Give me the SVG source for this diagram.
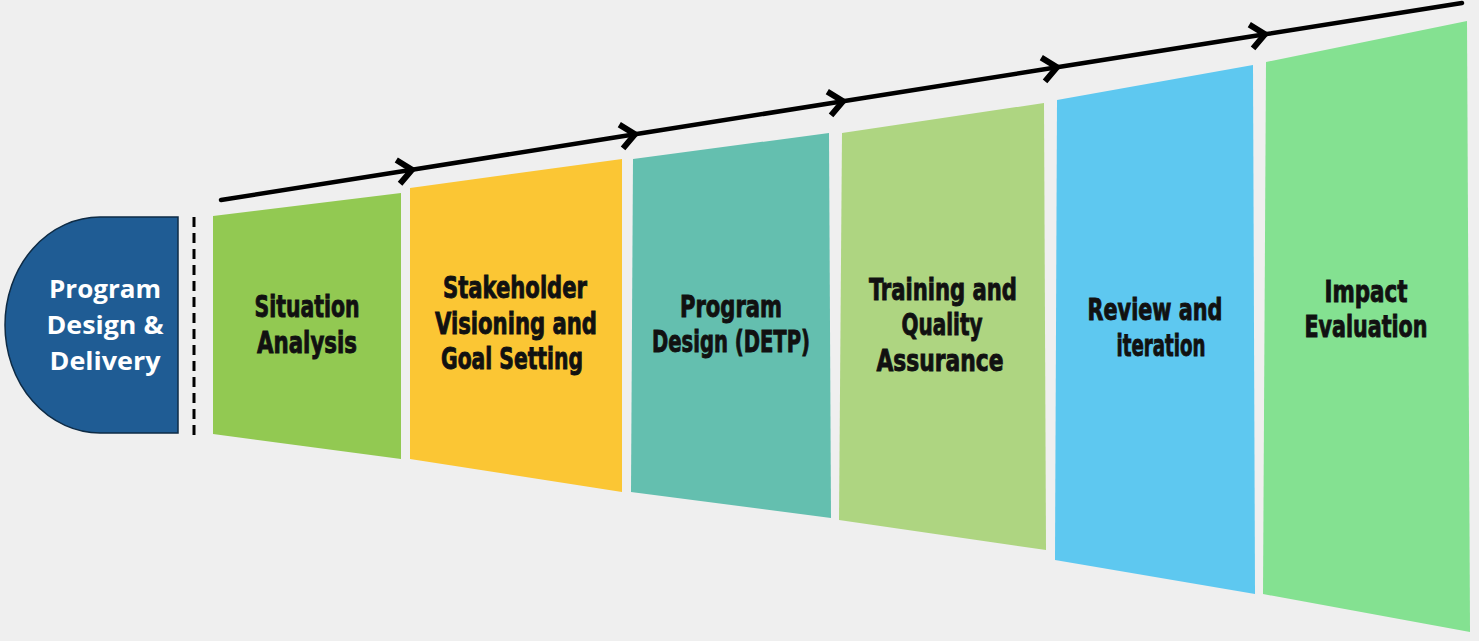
<svg xmlns="http://www.w3.org/2000/svg" width="1479" height="641" viewBox="0 0 1479 641">
<defs>
<style>
.lbl{font-family:"DejaVu Sans Condensed","Liberation Sans Narrow","Liberation Sans",sans-serif;font-weight:bold;font-size:31px;fill:#111;stroke:#111;stroke-width:0.9;text-anchor:middle;}
.wlbl{font-family:"Open Sans","Noto Sans",sans-serif;font-weight:bold;font-size:25px;fill:#fff;text-anchor:middle;}
.flow{stroke:#000;stroke-width:4.5;fill:none;stroke-linecap:round;}
</style>
<marker id="chev" markerUnits="userSpaceOnUse" orient="auto" markerWidth="36" markerHeight="36" viewBox="-22 -18 36 36" refX="0" refY="0">
<path d="M-14,-12 L0,0 L-14,12" fill="none" stroke="#000" stroke-width="6" stroke-linejoin="miter"/>
</marker>
</defs>
<rect width="1479" height="641" fill="#EFEFEF"/>

<g id="node-program-design-delivery">
<path d="M178,217 H100 A95,108 0 0 0 100,433 H178 Z" fill="#1F5C94" stroke="#0E2B45" stroke-width="1.5"/>
<text class="wlbl" x="105" y="298" textLength="112" lengthAdjust="spacingAndGlyphs">Program</text>
<text class="wlbl" x="105" y="334" textLength="117" lengthAdjust="spacingAndGlyphs">Design &amp;</text>
<text class="wlbl" x="105" y="370" textLength="111" lengthAdjust="spacingAndGlyphs">Delivery</text>
</g>

<g id="divider">
<line x1="194" y1="217" x2="194" y2="441" stroke="#000" stroke-width="3" stroke-dasharray="10,6"/>
</g>

<g id="node-situation-analysis">
<polygon points="213,216 401,193 401,459 213,434" fill="#92C952"/>
<text class="lbl" x="307" y="317" textLength="105" lengthAdjust="spacingAndGlyphs">Situation</text>
<text class="lbl" x="307" y="353" textLength="100" lengthAdjust="spacingAndGlyphs">Analysis</text>
</g>

<g id="node-stakeholder-visioning">
<polygon points="410,188 622,159 622,492 410,459" fill="#FBC634"/>
<text class="lbl" x="515" y="298" textLength="144" lengthAdjust="spacingAndGlyphs">Stakeholder</text>
<text class="lbl" x="516" y="334" textLength="162" lengthAdjust="spacingAndGlyphs">Visioning and</text>
<text class="lbl" x="512" y="369" textLength="142" lengthAdjust="spacingAndGlyphs">Goal Setting</text>
</g>

<g id="node-program-design-detp">
<polygon points="633,159 829,133 831,518 631,492" fill="#64BFAF"/>
<text class="lbl" x="731" y="317" textLength="102" lengthAdjust="spacingAndGlyphs">Program</text>
<text class="lbl" x="731" y="352" textLength="158" lengthAdjust="spacingAndGlyphs">Design (DETP)</text>
</g>

<g id="node-training-qa">
<polygon points="842,133 1044,103 1046,550 839,520" fill="#AED581"/>
<text class="lbl" x="943" y="300" textLength="148" lengthAdjust="spacingAndGlyphs">Training and</text>
<text class="lbl" x="942" y="335" textLength="81" lengthAdjust="spacingAndGlyphs">Quality</text>
<text class="lbl" x="940" y="371" textLength="127" lengthAdjust="spacingAndGlyphs">Assurance</text>
</g>

<g id="node-review-iteration">
<polygon points="1057,100 1253,65 1255,594 1055,560" fill="#5EC8F0"/>
<text class="lbl" x="1155" y="320" textLength="135" lengthAdjust="spacingAndGlyphs">Review and</text>
<text class="lbl" x="1161" y="356" textLength="89" lengthAdjust="spacingAndGlyphs">iteration</text>
</g>

<g id="node-impact-evaluation">
<polygon points="1266,62 1467,21 1470,632 1263,594" fill="#84E191"/>
<text class="lbl" x="1366" y="302" textLength="83" lengthAdjust="spacingAndGlyphs">Impact</text>
<text class="lbl" x="1366" y="337" textLength="123" lengthAdjust="spacingAndGlyphs">Evaluation</text>
</g>

<g id="connectors">
<line class="flow" x1="221" y1="200" x2="412" y2="169.7" marker-end="url(#chev)"/>
<line class="flow" x1="412" y1="169.7" x2="635" y2="134.3" marker-end="url(#chev)"/>
<line class="flow" x1="635" y1="134.3" x2="843" y2="101.3" marker-end="url(#chev)"/>
<line class="flow" x1="843" y1="101.3" x2="1057" y2="67.3" marker-end="url(#chev)"/>
<line class="flow" x1="1057" y1="67.3" x2="1265" y2="34.3" marker-end="url(#chev)"/>
<line class="flow" x1="1265" y1="34.3" x2="1462" y2="3"/>
</g>
</svg>
